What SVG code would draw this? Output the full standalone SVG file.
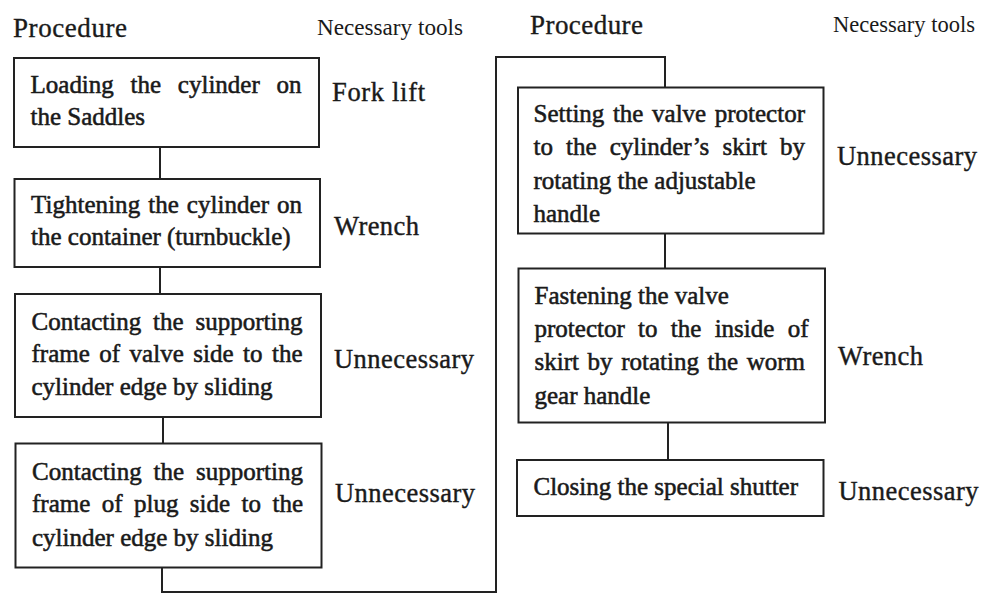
<svg xmlns="http://www.w3.org/2000/svg" width="984" height="594" viewBox="0 0 984 594">
<style>
.box{fill:#fff;stroke:#222;stroke-width:2}
.conn{fill:none;stroke:#222;stroke-width:2}
.t{font-family:"Liberation Serif","Times New Roman",serif;font-size:25px;fill:#1a1a1a;stroke:#1a1a1a;stroke-width:0.55px}
.lab{font-family:"Liberation Serif","Times New Roman",serif;font-size:26.5px;fill:#1a1a1a;stroke:#1a1a1a;stroke-width:0.4px}
.hd{font-family:"Liberation Serif","Times New Roman",serif;font-size:27px;fill:#1a1a1a;stroke:#1a1a1a;stroke-width:0.35px}
.hd2{font-family:"Liberation Serif","Times New Roman",serif;font-size:24px;fill:#1a1a1a}
</style>
<rect width="984" height="594" fill="#fff"/>
<g id="headers">
<text class="hd" x="13" y="37" textLength="114">Procedure</text>
<text class="hd2" x="317" y="35" textLength="146" lengthAdjust="spacingAndGlyphs">Necessary tools</text>
<text class="hd" x="530" y="33.5" textLength="113">Procedure</text>
<text class="hd2" x="833" y="32" textLength="142" lengthAdjust="spacingAndGlyphs">Necessary tools</text>
</g>
<g id="connectors">
<line class="conn" x1="160" y1="147" x2="160" y2="178"/>
<line class="conn" x1="160" y1="267" x2="160" y2="294"/>
<line class="conn" x1="163" y1="417" x2="163" y2="443"/>
<polyline class="conn" points="162,567 162,592 496,592 496,57 665,57 665,87"/>
<line class="conn" x1="665" y1="233" x2="665" y2="268"/>
<line class="conn" x1="668" y1="423" x2="668" y2="460"/>
</g>
<g id="step1">
<rect class="box" x="14" y="58" width="305" height="89"/>
<text class="t" x="30.5" y="93" word-spacing="10.5" textLength="271">Loading the cylinder on</text>
<text class="t" x="30.5" y="125">the Saddles</text>
<text class="lab" x="332" y="101" textLength="93">Fork lift</text>
</g>
<g id="step2">
<rect class="box" x="14.5" y="179" width="305.5" height="88"/>
<text class="t" x="31" y="212.5" word-spacing="1.7" textLength="271">Tightening the cylinder on</text>
<text class="t" x="31" y="244.5">the container (turnbuckle)</text>
<text class="lab" x="334" y="234.5" textLength="85">Wrench</text>
</g>
<g id="step3">
<rect class="box" x="15" y="294" width="306" height="123"/>
<text class="t" x="31.5" y="330" word-spacing="5.6" textLength="271">Contacting the supporting</text>
<text class="t" x="31.5" y="362" word-spacing="3.2" textLength="271">frame of valve side to the</text>
<text class="t" x="31.5" y="395">cylinder edge by sliding</text>
<text class="lab" x="334" y="367.5" textLength="140">Unnecessary</text>
</g>
<g id="step4">
<rect class="box" x="15.5" y="443.5" width="306" height="124"/>
<text class="t" x="32" y="479.5" word-spacing="5.6" textLength="271">Contacting the supporting</text>
<text class="t" x="32" y="512" word-spacing="5.2" textLength="271">frame of plug side to the</text>
<text class="t" x="32" y="546">cylinder edge by sliding</text>
<text class="lab" x="335" y="502" textLength="140">Unnecessary</text>
</g>
<g id="step5">
<rect class="box" x="518" y="87.5" width="305.5" height="146"/>
<text class="t" x="533.5" y="122" word-spacing="2.3" textLength="271.5">Setting the valve protector</text>
<text class="t" x="533.5" y="155" word-spacing="6.8" textLength="271.5">to the cylinder’s skirt by</text>
<text class="t" x="533.5" y="188.5">rotating the adjustable</text>
<text class="t" x="533.5" y="221.5">handle</text>
<text class="lab" x="837" y="165" textLength="140">Unnecessary</text>
</g>
<g id="step6">
<rect class="box" x="518.5" y="268.5" width="306.5" height="154"/>
<text class="t" x="534.5" y="303.5">Fastening the valve</text>
<text class="t" x="534.5" y="336.5" word-spacing="7" textLength="274">protector to the inside of</text>
<text class="t" x="534.5" y="370" word-spacing="2.4" textLength="270.5">skirt by rotating the worm</text>
<text class="t" x="534.5" y="403.5">gear handle</text>
<text class="lab" x="838" y="365" textLength="85">Wrench</text>
</g>
<g id="step7">
<rect class="box" x="517" y="460" width="306.5" height="56"/>
<text class="t" x="533.5" y="495">Closing the special shutter</text>
<text class="lab" x="838.5" y="500" textLength="140">Unnecessary</text>
</g>
</svg>
